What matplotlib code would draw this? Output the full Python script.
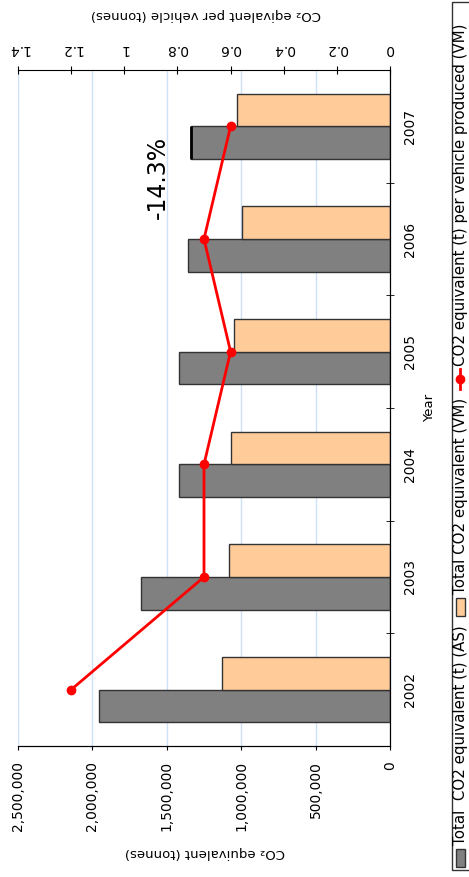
import numpy as np
import matplotlib.pyplot as plt
from matplotlib.patches import Rectangle
from matplotlib.lines import Line2D

# dane
years = ['2002', '2003', '2004', '2005', '2006', '2007']
total_as = [1953000, 1673000, 1418000, 1416000, 1357000, 1337000]
total_vm = [1127000, 1080000, 1071000, 1046000, 992000, 1026000]
per_vehicle = [1.2, 0.7, 0.7, 0.6, 0.7, 0.6]
tonne_ticks = [0, 500000, 1000000, 1500000, 2000000, 2500000]
vehicle_ticks = [0, 0.2, 0.4, 0.6, 0.8, 1, 1.2, 1.4]
legend_labels = ['Total  CO2 equivalent (t) (AS)', 'Total CO2 equivalent (VM)',
                 'CO2 equivalent (t) per vehicle produced (VM)']

grey = '#808080'
orange = '#ffcc99'
edge = '#333333'
red = '#ff0000'

W, H = 469, 877
fig = plt.figure(figsize=(W / 100, H / 100), dpi=100)
ax = fig.add_axes([18 / W, 1 - 746 / H, (390 - 18) / W, (746 - 70) / H])

pos = np.arange(len(years))
bh = 0.29
ax.barh(pos - bh / 2, total_as, height=bh, color=grey, edgecolor=edge, lw=1, zorder=2)
ax.barh(pos + bh / 2, total_vm, height=bh, color=orange, edgecolor=edge, lw=1, zorder=2)
ax.vlines(total_as[-1], pos[-1] - bh, pos[-1], color='black', lw=2, zorder=3)

ax.set_xlim(2500000, 0)
ax.set_ylim(-0.5, len(years) - 0.5)
ax.set_xticks(tonne_ticks)
ax.set_xticklabels([f'{v:,}' for v in tonne_ticks], rotation=90, fontsize=10)
ax.tick_params(axis='x', direction='out', length=3, pad=8, color='black')
ax.grid(axis='x', color='#cce0f7', lw=1)
ax.set_axisbelow(True)

ax.yaxis.tick_right()
ax.set_yticks(pos)
ax.set_yticklabels(years, rotation=90, va='center', fontsize=10)
ax.set_yticks(pos[:-1] + 0.5, minor=True)
ax.tick_params(axis='y', which='major', length=0, pad=9)
ax.tick_params(axis='y', which='minor', direction='inout', length=6, color='black')
ax.spines['left'].set_visible(False)
ax.spines['top'].set_visible(False)

ax2 = ax.twiny()
ax2.plot(per_vehicle, pos, color=red, lw=2, marker='o', ms=6, zorder=4)
ax2.set_xlim(1.4, 0)
ax2.set_xticks(vehicle_ticks)
ax2.set_xticklabels([f'{v:g}' for v in vehicle_ticks], rotation=180, fontsize=10)
ax2.tick_params(axis='x', direction='inout', length=6, pad=7, color='black')
ax2.spines['left'].set_visible(False)

ax.text(1560000, 4.55, '-14.3%', rotation=90, fontsize=17, ha='center', va='center', zorder=5)

fig.text(205 / W, 1 - 852 / H, 'CO₂ equivalent (tonnes)', rotation=180,
         fontsize=9.5, ha='center', va='center')
fig.text(206 / W, 1 - 15 / H, 'CO₂ eqivalent per vehicle (tonnes)', rotation=180,
         fontsize=9.5, ha='center', va='center')
fig.text(430 / W, 1 - 408 / H, 'Year', rotation=90, fontsize=9.5, ha='center', va='center')

# legenda obrócona - rysowana ręcznie w pikselach
lax = fig.add_axes([0, 0, 1, 1], zorder=10)
lax.set_xlim(0, W)
lax.set_ylim(H, 0)
lax.axis('off')
lax.add_patch(Rectangle((451.5, 2), 40, 868, fill=False, edgecolor=edge, lw=1, clip_on=False))
renderer = fig.canvas.get_renderer()
xc = 460
y = 867
for i, lab in enumerate(legend_labels):
    if i < 2:
        lax.add_patch(Rectangle((xc - 4.5, y - 18), 9, 18, facecolor=[grey, orange][i],
                                edgecolor=edge, lw=1))
        y -= 22
    else:
        lax.add_line(Line2D([xc, xc], [y, y - 20], color=red, lw=2))
        lax.add_line(Line2D([xc], [y - 10], color=red, marker='o', ms=6))
        y -= 23
    t = lax.text(xc + 1, y, lab, rotation=90, fontsize=10.8, ha='center', va='bottom')
    y -= t.get_window_extent(renderer).height + 9

fig.savefig('out.png', dpi=100)
